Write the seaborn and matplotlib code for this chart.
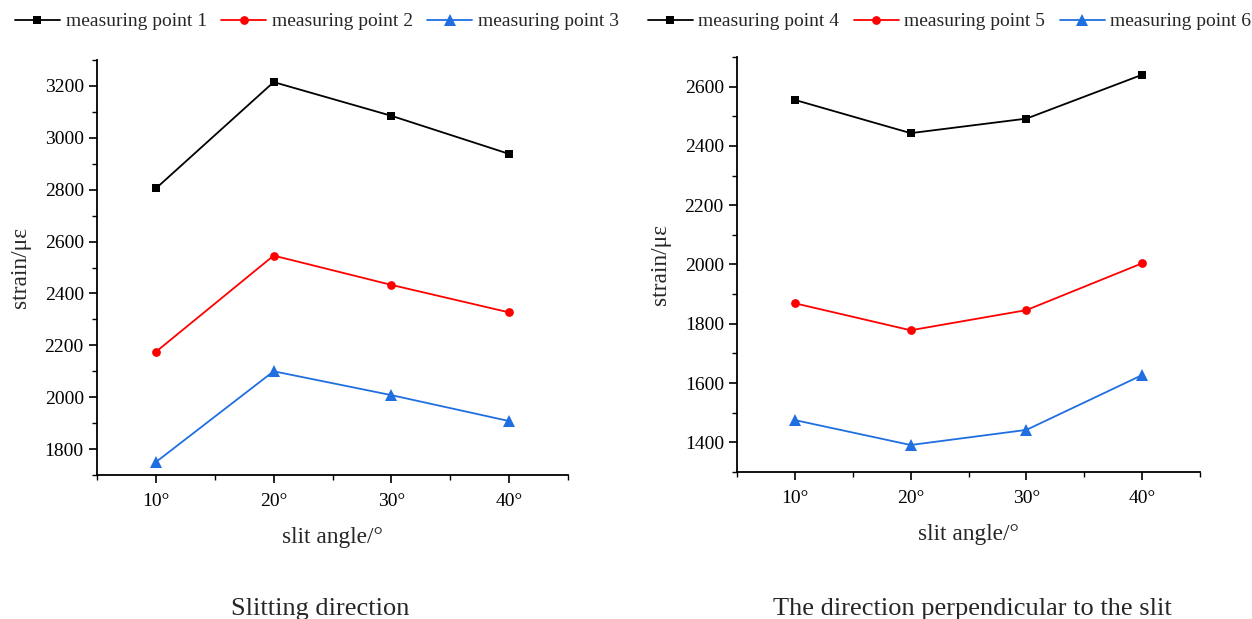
import matplotlib
matplotlib.use("Agg")
import matplotlib.pyplot as plt
from matplotlib.ticker import MultipleLocator, FixedLocator, FixedFormatter
import seaborn as sns
import pandas as pd

# slit angles (degrees)
angles = [10, 20, 30, 40]
angle_labels = ["10°", "20°", "30°", "40°"]

# strain along the slitting direction (με)
mp1 = [2805, 3215, 3085, 2938]
mp2 = [2175, 2546, 2433, 2327]
mp3 = [1750, 2100, 2008, 1908]

# strain perpendicular to the slit (με)
mp4 = [2555, 2443, 2492, 2640]
mp5 = [1869, 1778, 1846, 2004]
mp6 = [1475, 1391, 1442, 1627]

names_left = ["measuring point 1", "measuring point 2", "measuring point 3"]
names_right = ["measuring point 4", "measuring point 5", "measuring point 6"]
colors = ["#000000", "#ff0000", "#1f6fe0"]
markers = ["s", "o", "^"]

sns.set_theme(style="ticks")
plt.rcParams["font.family"] = ["Liberation Serif", "DejaVu Serif"]

fig = plt.figure(figsize=(12.52, 6.19), dpi=100)
ax1 = fig.add_axes([0.0775, 0.2326, 0.3762, 0.6704])
ax2 = fig.add_axes([0.5887, 0.2375, 0.3698, 0.6705])


def enlarge_triangles(lines):
    # triangles read smaller than squares and circles at equal size
    for ln in lines:
        if ln.get_marker() == "^":
            ln.set_markersize(8.5)


def draw(ax, series, names, ylim, ymajor):
    df = pd.DataFrame({
        "angle": angles * len(series),
        "strain": [v for s in series for v in s],
        "series": [n for n in names for _ in angles],
    })
    sns.lineplot(data=df, x="angle", y="strain", hue="series", style="series",
                 palette=colors, markers=markers, dashes=False, ax=ax,
                 markersize=6.3, linewidth=1.3, markeredgewidth=0, legend=True)
    enlarge_triangles(ax.lines)
    ax.set_xlim(5, 45)
    ax.set_ylim(*ylim)
    ax.xaxis.set_major_locator(FixedLocator(angles))
    ax.xaxis.set_major_formatter(FixedFormatter(angle_labels))
    ax.xaxis.set_minor_locator(FixedLocator([5, 15, 25, 35, 45]))
    ax.yaxis.set_major_locator(MultipleLocator(ymajor))
    ax.yaxis.set_minor_locator(MultipleLocator(ymajor / 2))
    for s in ["top", "right"]:
        ax.spines[s].set_visible(False)
    for s in ["left", "bottom"]:
        ax.spines[s].set_linewidth(1.3)
        ax.spines[s].set_color("black")
    ax.tick_params(axis="both", which="major", length=6, width=1.2,
                   labelsize=14, colors="black", direction="out")
    ax.tick_params(axis="x", which="major", pad=7)
    ax.tick_params(axis="both", which="minor", length=3.5, width=1.0,
                   colors="black", direction="out")
    ax.set_xlabel("slit angle/°", fontsize=16.8, labelpad=12)
    ax.set_ylabel("strain/με", fontsize=16.8, labelpad=10)
    handles, labels = ax.get_legend_handles_labels()
    ax.get_legend().remove()
    enlarge_triangles(handles)
    return handles, labels


h1, l1 = draw(ax1, [mp1, mp2, mp3], names_left, (1700, 3300), 200)
h2, l2 = draw(ax2, [mp4, mp5, mp6], names_right, (1300, 2700), 200)

legend_kw = dict(loc="center", ncol=3, frameon=False, fontsize=14,
                 handlelength=2.3, handletextpad=0.3, columnspacing=0.75)
fig.legend(h1, l1, bbox_to_anchor=(0.2532, 0.965), **legend_kw)
fig.legend(h2, l2, bbox_to_anchor=(0.7585, 0.965), **legend_kw)

fig.text(0.2556, 0.016, "Slitting direction", ha="center", va="center",
         fontsize=19)
fig.text(0.7764, 0.016, "The direction perpendicular to the slit",
         ha="center", va="center", fontsize=19)

fig.savefig("out.png", dpi=100, facecolor="white")
